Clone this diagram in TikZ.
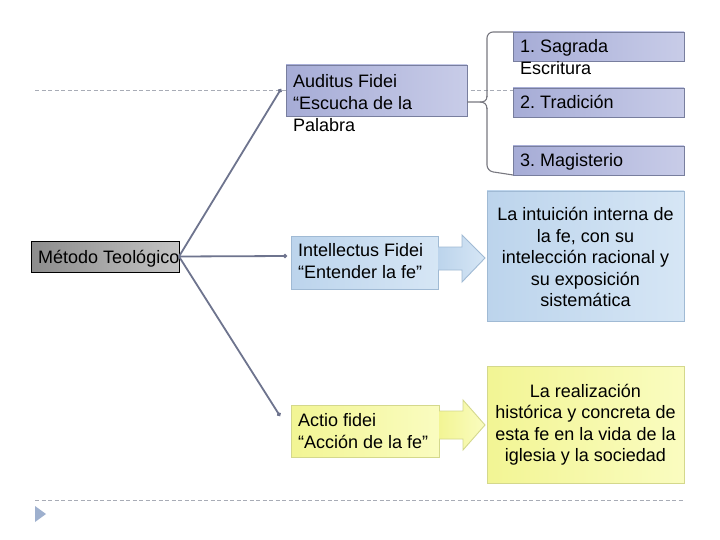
\documentclass[tikz,border=0pt]{standalone}
\usepackage{fontspec}
\setmainfont{Liberation Sans}
\frenchspacing
\usetikzlibrary{arrows.meta,calc}
\definecolor{lav1}{RGB}{166,172,214}
\definecolor{lav2}{RGB}{200,204,232}
\definecolor{lavb}{RGB}{120,126,158}
\definecolor{blu1}{RGB}{188,212,236}
\definecolor{blu2}{RGB}{214,230,245}
\definecolor{blub}{RGB}{160,186,212}
\definecolor{yel1}{RGB}{242,245,148}
\definecolor{yel2}{RGB}{250,252,192}
\definecolor{yelb}{RGB}{212,216,140}
\definecolor{gry1}{RGB}{140,140,140}
\definecolor{gry2}{RGB}{196,196,196}
\definecolor{conn}{RGB}{110,116,142}
\definecolor{dashc}{RGB}{168,172,182}
\definecolor{brk}{RGB}{120,120,128}
\definecolor{tri}{RGB}{158,176,206}
\begin{document}
\begin{tikzpicture}[x=1pt,y=-1pt,
  box/.style={anchor=north west, inner sep=0pt, outer sep=0pt, line width=0.9pt},
  lavbox/.style={box, draw=lavb, left color=lav1, right color=lav2},
  blubox/.style={box, draw=blub, left color=blu1, right color=blu2},
  yelbox/.style={box, draw=yelb, left color=yel1, right color=yel2},
  grybox/.style={box, draw=black, left color=gry1, right color=gry2},
  txt/.style={anchor=north west, inner sep=0pt, align=left, font=\fontsize{18}{22}\selectfont},
  ctxt/.style={anchor=center, inner sep=0pt, align=center, font=\fontsize{18}{21.5}\selectfont},
  conline/.style={draw=conn, line width=1.8pt, -{Circle[length=4pt]}},
  dashline/.style={draw=dashc, line width=0.9pt, dash pattern=on 4pt off 2.5pt},
  brace/.style={draw=brk, line width=1.1pt, rounded corners=6pt},
  bigarrow/.style={line width=0.9pt}
]
\useasboundingbox (0,0) rectangle (720,540);
\fill[white] (0,0) rectangle (720,540);

% dashed guide lines
\coordinate (d1a) at (35,90);
\coordinate (d1b) at (684,90);
\coordinate (d2a) at (35,500);
\coordinate (d2b) at (684,500);
\draw[dashline] (d1a) -- (d1b);
\draw[dashline] (d2a) -- (d2b);
\fill[tri] (35,506) -- (46,514) -- (35,522) -- cycle;

% boxes
\node[grybox, minimum width=148pt, minimum height=31pt] (mt) at (31,241) {};
\node[lavbox, minimum width=181pt, minimum height=51pt] (aud) at (286,65) {};
\node[blubox, minimum width=147pt, minimum height=53pt] (int) at (291,236) {};
\node[yelbox, minimum width=148pt, minimum height=52pt] (act) at (291,405) {};
\node[lavbox, minimum width=171pt, minimum height=29pt] (s1) at (513,32) {};
\node[lavbox, minimum width=171pt, minimum height=29pt] (s2) at (513,88) {};
\node[lavbox, minimum width=171pt, minimum height=29pt] (s3) at (513,146) {};
\node[blubox, minimum width=197pt, minimum height=130pt] (bb) at (487,191) {};
\node[yelbox, minimum width=197pt, minimum height=117pt] (yb) at (487,366) {};

% texts
\node[txt] (tmt) at (38,250) {Método Teológico};
\node[txt] (taud) at (293,74) {Auditus Fidei\\“Escucha de la\\Palabra};
\node[txt] (tint) at (298,243) {Intellectus Fidei\\“Entender la fe”};
\node[txt] (tact) at (298,413) {Actio fidei\\“Acción de la fe”};
\node[txt] (ts1) at (520,39) {1. Sagrada\\Escritura};
\node[txt] (ts2) at (520,95) {2. Tradición};
\node[txt] (ts3) at (520,153) {3. Magisterio};
\node[ctxt] (tbb) at ($(bb.center)+(0,1)$) {La intuición interna de\\la fe, con su\\intelección racional y\\su exposición\\sistemática};
\node[ctxt] (tyb) at ($(yb.center)+(0,0)$) {La realización\\histórica y concreta de\\esta fe en la vida de la\\iglesia y la sociedad};

% big arrows
\draw[bigarrow, draw=blub, left color=blu1, right color=blu2]
  (int.east |- 0,247) -- (462,247) -- (462,235) -- (485,258) -- (462,282) -- (462,270) -- (int.east |- 0,270);
\draw[bigarrow, draw=yelb, left color=yel1, right color=yel2]
  (act.east |- 0,411) -- (463,411) -- (463,400) -- (485,425) -- (463,450) -- (463,439) -- (act.east |- 0,439);

% connectors
\coordinate (e1) at (281,89);
\coordinate (e2) at (287,256);
\coordinate (e3) at (280,416);
\draw[conline] (mt.east) -- (e1);
\draw[conline] (mt.east) -- (e2);
\draw[conline] (mt.east) -- (e3);

% brace
\coordinate (btip) at (aud.east |- 0,102);
\draw[brace] (s1.north west) -- (487,32) -- (487,97);
\draw[draw=brk, line width=1.1pt] (487,96) .. controls (487,101) and (484,102) .. (480,102) -- (btip);
\draw[draw=brk, line width=1.1pt] (480,102) .. controls (484,102) and (487,104) .. (487,109);
\draw[brace] (487,108) -- (487,171) -- (s3.south west);
\end{tikzpicture}
\end{document}
